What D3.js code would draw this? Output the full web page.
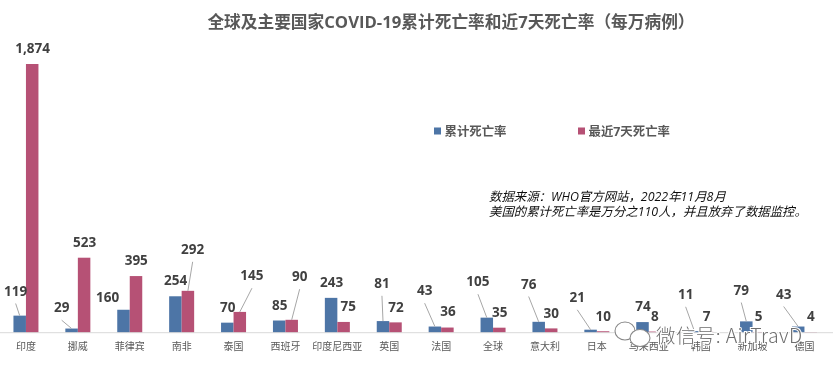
<!DOCTYPE html>
<html>
<head>
<meta charset="utf-8">
<script src="https://cdn.jsdelivr.net/npm/d3@7/dist/d3.min.js"></script>
<style>
  html, body { margin: 0; background: #fff; }
  svg { display: block; }
  text { font-family: "Open Sans", "Noto Sans CJK SC", sans-serif; }
</style>
</head>
<body>
<svg id="chart" width="833" height="370"></svg>
<script>
const categories = ['印度','挪威','菲律宾','南非','泰国','西班牙','印度尼西亚','英国','法国','全球','意大利','日本','马来西亚','韩国','新加坡','德国'];
const cumulative = [119,29,160,254,70,85,243,81,43,105,76,21,74,11,79,43];
const recent = [1874,523,395,292,145,90,75,72,36,35,30,10,8,7,5,4];

// hand placed data labels: offset from category centre, height above the baseline
const cumulativeLabelDx = [-10.3,-16.2,-22.1,-6,-5.9,-5.8,-5.7,-7.3,-16.5,-15.1,-16.3,-19.6,-5.8,-15,-11.3,-20.8];
const cumulativeLabelUp = [41.7,25,35.7,52,25.7,27.4,50.4,49.4,42,51,48.7,35.4,26,38.4,42.7,38.7];
const recentLabelDx = [6.7,6.8,6.5,11,18.4,14.2,10.9,6.7,6.8,6.6,6.3,6.4,6.2,6,6.1,6.5];
const recentLabelUp = [284,90.7,72.4,83.4,57,56,26,25.4,21,20.4,19.4,16.7,16,16,16.4,16];

// which labels get a leader line back to their bar
const cumulativeLeaders = [0,1,7,8,9,10,11,13,14,15];
const recentLeaders = [3,4,5];

const blue = '#4d74a6';
const pink = '#b65175';

const svg = d3.select('#chart');
const baseline = 332.7;

// the reference is a slightly soft screenshot
svg.append('defs').append('filter').attr('id', 'soft')
  .append('feGaussianBlur').attr('stdDeviation', 0.35);
const root = svg.append('g').attr('filter', 'url(#soft)');

const x = d3.scaleBand().domain(categories).range([0, 830.4]);
const y = d3.scaleLinear().domain([0, 1874]).range([baseline, 64]);
const barW = 12.5;

root.append('text')
  .attr('x', 451).attr('y', 28)
  .attr('text-anchor', 'middle')
  .attr('font-size', 16.7).attr('font-weight', 700).attr('fill', '#595959')
  .text('全球及主要国家COVID-19累计死亡率和近7天死亡率（每万病例）');

const series = [
  {name: 'cumulative', values: cumulative, color: blue, side: -1, dx: cumulativeLabelDx, up: cumulativeLabelUp, leaders: cumulativeLeaders},
  {name: 'recent', values: recent, color: pink, side: 0, dx: recentLabelDx, up: recentLabelUp, leaders: recentLeaders}
];

const centre = (d) => x(d) + x.bandwidth() / 2;

series.forEach((s) => {
  root.append('g').selectAll('rect')
    .data(categories)
    .enter()
    .append('rect')
    .attr('x', (d) => centre(d) + s.side * barW)
    .attr('y', (d, i) => y(s.values[i]))
    .attr('width', barW)
    .attr('height', (d, i) => baseline - y(s.values[i]))
    .attr('fill', s.color);
});

const axis = d3.axisBottom(x).tickSize(0).tickPadding(10);
const axisG = root.append('g').attr('transform', `translate(0,${baseline})`).call(axis);
axisG.select('.domain').attr('d', 'M0,0H833').attr('stroke', '#d9d9d9').attr('stroke-width', 1);
axisG.selectAll('text').attr('font-size', 10).attr('fill', '#595959')
  .style('font-family', '"Noto Sans CJK SC", sans-serif');

series.forEach((s) => {
  const leaders = root.append('g');
  s.leaders.forEach((i) => {
    const d = categories[i];
    leaders.append('line')
      .attr('x1', centre(d) + s.dx[i])
      .attr('y1', baseline - s.up[i] + 12.5)
      .attr('x2', centre(d) + s.side * barW + barW / 2)
      .attr('y2', y(s.values[i]))
      .attr('stroke', '#a6a6a6').attr('stroke-width', 1);
  });
  root.append('g').selectAll('text')
    .data(categories)
    .enter()
    .append('text')
    .attr('x', (d) => centre(d) + s.dx[categories.indexOf(d)])
    .attr('y', (d, i) => baseline - s.up[i])
    .attr('dy', '0.35em')
    .attr('text-anchor', 'middle')
    .attr('font-size', 13.5).attr('font-weight', 700).attr('fill', '#404040')
    .text((d, i) => d3.format(',')(s.values[i]));
});

// legend
const legend = [{label: '累计死亡率', color: blue, at: 434}, {label: '最近7天死亡率', color: pink, at: 578}];
legend.forEach((l) => {
  root.append('rect').attr('x', l.at).attr('y', 127.5).attr('width', 7).attr('height', 7).attr('fill', l.color);
  root.append('text').attr('x', l.at + 10.5).attr('y', 135.5)
    .attr('font-size', 12.4).attr('font-weight', 700).attr('fill', '#595959').text(l.label);
});

// source note
const note = ['数据来源：WHO官方网站，2022年11月8月', '美国的累计死亡率是万分之110人，并且放弃了数据监控。'];
root.append('g').selectAll('text')
  .data(note)
  .enter()
  .append('text')
  .attr('x', 489)
  .attr('y', (d, i) => 201 + i * 15)
  .attr('font-size', 12.4).attr('font-style', 'italic').attr('fill', '#111')
  .text((d) => d);

// watermark
const mark = root.append('g').attr('stroke', '#888').attr('stroke-width', 1.1).attr('fill', '#fff');
mark.append('ellipse').attr('cx', 625).attr('cy', 331).attr('rx', 10).attr('ry', 9);
mark.append('ellipse').attr('cx', 640).attr('cy', 338).attr('rx', 10).attr('ry', 8.5);
root.append('text').attr('x', 656).attr('y', 343)
  .attr('font-size', 19.5).attr('letter-spacing', 0.4).attr('font-weight', 300).attr('fill', '#6e6e6e')
  .attr('stroke', '#fff').attr('stroke-width', 2).attr('paint-order', 'stroke')
  .style('font-family', '"Noto Sans CJK SC", sans-serif')
  .text('微信号: AirTravD');
</script>
</body>
</html>
